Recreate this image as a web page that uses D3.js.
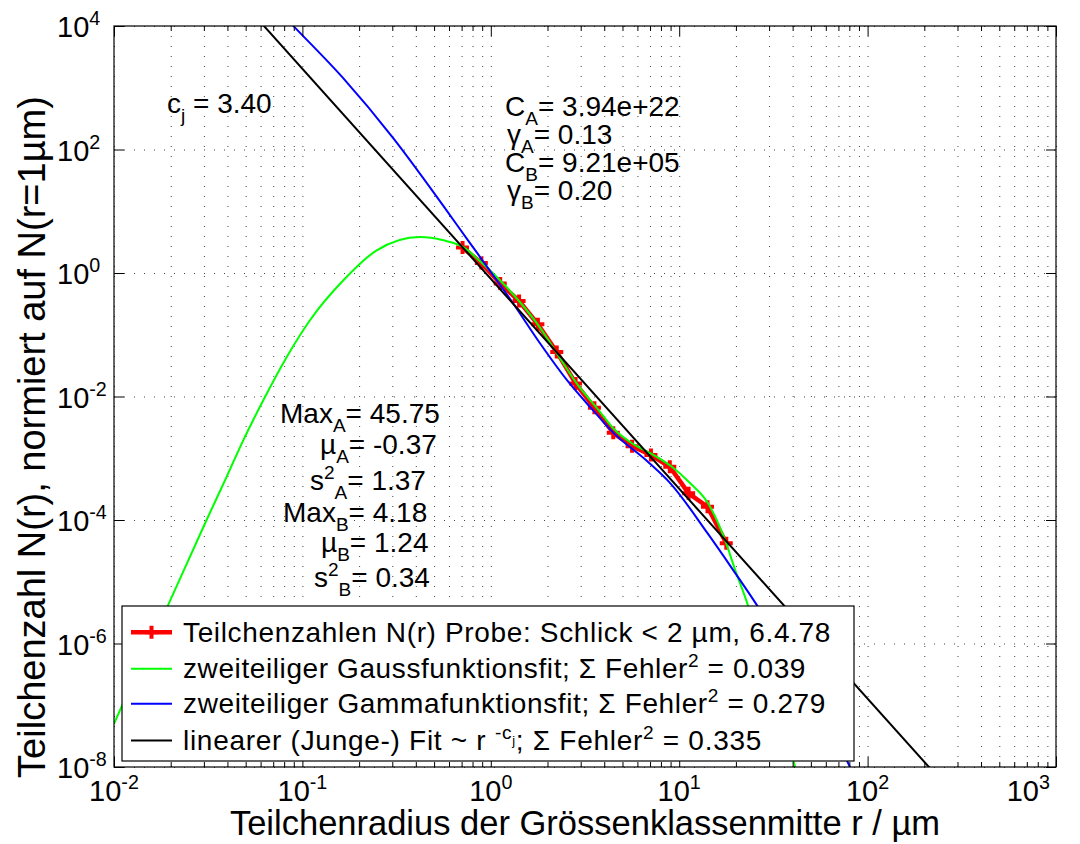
<!DOCTYPE html>
<html><head><meta charset="utf-8">
<script src="https://cdn.jsdelivr.net/npm/d3@7"></script>
<style>
body{margin:0;background:#fff;}
svg{display:block;}
text{font-family:"Liberation Sans",Arial,Helvetica,sans-serif;fill:#000;white-space:pre;}
</style>
</head><body>
<svg id="chart" width="1080" height="844"></svg>
<script>
// ---------------- data ----------------
const radiusUm = [0.708, 0.891, 1.122, 1.413, 1.778, 2.239, 2.818, 3.548, 4.467, 5.623, 7.079, 8.913, 11.22, 14.13, 17.78];
const countNorm = [2.58, 1.45, 0.674, 0.352, 0.148, 0.0527, 0.0163, 0.00656, 0.00258, 0.00157, 0.00113, 0.000728, 0.00027, 0.000164, 0.000042];

const gaussR = [0.01, 0.01102, 0.01905, 0.0310, 0.0396, 0.0486, 0.0620, 0.0826, 0.1097, 0.165, 0.248, 0.421, 0.560, 0.715, 0.877, 1.119, 1.43, 1.82, 2.33, 2.90, 3.66, 4.56, 5.69, 7.17, 9.04, 11.41, 14.2, 17.5, 19.8, 23.2, 30.3, 41.2, 43.8];
const gaussN = [5.0e-8, 9.8e-8, 3.73e-6, 1.0e-4, 5.0e-4, 1.97e-3, 8.7e-3, 0.0438, 0.172, 0.762, 2.33, 3.82, 3.38, 2.63, 1.55, 0.762, 0.336, 0.132, 0.0417, 0.0153, 0.00649, 0.00286, 0.0017, 0.00117, 0.000748, 0.000397, 0.000188, 4.75e-5, 1.56e-5, 4.07e-6, 1.78e-7, 1.01e-8, 5.1e-9];

const gammaR = [0.07604, 0.09135, 0.1642, 0.3027, 0.5575, 0.7568, 0.9605, 1.312, 1.824, 2.538, 3.484, 4.45, 6.748, 9.05, 14.1, 19.3, 26.2, 45.5, 78.7, 82.6];
const gammaN = [16900, 9415, 1441, 154.3, 12.44, 3.38, 1.236, 0.324, 0.0729, 0.0184, 0.0060, 0.00262, 0.0009, 0.000382, 6.17e-5, 1.56e-5, 3.92e-6, 2.31e-7, 1.17e-8, 8.4e-9];

const jungeR = [0.05, 300];
const jungeN = [21400, 3.05e-9];

const xTickValues = [1e-2, 1e-1, 1e0, 1e1, 1e2, 1e3];
const xTickLabels = ["10^{-2}", "10^{-1}", "10^{0}", "10^{1}", "10^{2}", "10^{3}"];
const yTickValues = [1e-8, 1e-6, 1e-4, 1e-2, 1e0, 1e2, 1e4];
const yTickLabels = ["10^{-8}", "10^{-6}", "10^{-4}", "10^{-2}", "10^{0}", "10^{2}", "10^{4}"];

const seriesNames = [
  "Teilchenzahlen N(r) Probe: Schlick < 2 µm, 6.4.78",
  "zweiteiliger Gaussfunktionsfit; Σ Fehler^{2} = 0.039",
  "zweiteiliger Gammafunktionsfit; Σ Fehler^{2} = 0.279",
  "linearer (Junge-) Fit ~ r ^{-c_{j}}; Σ Fehler^{2} = 0.335"
];
const annotationTexts = [
  "c_{j} = 3.40",
  "C_{A}= 3.94e+22", "γ_{A}= 0.13", "C_{B}= 9.21e+05", "γ_{B}= 0.20",
  "Max_{A}= 45.75", "µ_{A}= -0.37", "s^{2}_{A}= 1.37",
  "Max_{B}= 4.18", "µ_{B}= 1.24", "s^{2}_{B}= 0.34"
];
const xAxisTitle = "Teilchenradius der Grössenklassenmitte r / µm";
const yAxisTitle = "Teilchenzahl N(r), normiert auf N(r=1µm)";

// ---------------- layout ----------------
const L = 114, R = 1056, T = 26, B = 767;
const annotationPos = [
  [167,112.7],
  [505,116],[507,144],[505,172],[507,200],
  [280,423],[320,454],[310,490],[283,522],[321,552],[314,587]
];
const legendBox = {x: 122, y: 606, w: 732, h: 155};
const legendRowBase = [641.7, 678.3, 713.3, 750];
const legendRowEnd = [831, 806, 826, 762];

const svg = d3.select("#chart");
const x = d3.scaleLog().domain([1e-2, 1e3]).range([L, R]);
const y = d3.scaleLog().domain([1e-8, 1e4]).range([B, T]);

// rich text with ^{} and _{}
function parseTex(s, shift, scale, out) {
  let i = 0, buf = "";
  const flush = () => { if (buf) { out.push({t: buf, shift, scale}); buf = ""; } };
  while (i < s.length) {
    const c = s[i];
    if (c === "^" || c === "_") {
      flush();
      let inner;
      if (s[i+1] === "{") {
        let depth = 1, j = i + 2;
        while (j < s.length && depth) { if (s[j] === "{") depth++; else if (s[j] === "}") depth--; j++; }
        inner = s.slice(i+2, j-1); i = j;
      } else { inner = s[i+1]; i += 2; }
      parseTex(inner, shift + (c === "^" ? -0.40 * scale : 0.32 * scale), scale * 0.68, out);
    } else { buf += c; i++; }
  }
  flush();
  return out;
}
function drawTex(g, str, px, py, size, anchor) {
  const t = g.append("text").attr("x", px).attr("y", py).attr("font-size", size)
    .attr("text-anchor", anchor || "start");
  let prev = 0;
  parseTex(str, 0, 1, []).forEach(seg => {
    t.append("tspan").attr("dy", ((seg.shift - prev) * size).toFixed(2))
      .attr("font-size", (seg.scale * size).toFixed(2)).text(seg.t);
    prev = seg.shift;
  });
  return t;
}

// clip
svg.append("defs").append("clipPath").attr("id", "plotclip")
  .append("rect").attr("x", L).attr("y", T).attr("width", R - L).attr("height", B - T);

// grid
const gridStyle = s => s.selectAll("line").attr("stroke", "#444").attr("stroke-width", 1)
  .attr("stroke-dasharray", "1,9");
const gx = svg.append("g").attr("transform", `translate(0,${B})`)
  .call(d3.axisBottom(x).tickValues(x.ticks()).tickSize(-(B - T)).tickFormat(""));
gx.select(".domain").remove(); gridStyle(gx);
const gy = svg.append("g").attr("transform", `translate(${L},0)`)
  .call(d3.axisLeft(y).tickValues(yTickValues).tickSize(-(R - L)).tickFormat(""));
gy.select(".domain").remove(); gridStyle(gy);

// series
const plot = svg.append("g").attr("clip-path", "url(#plotclip)");
const dataPts = radiusUm.map((r, i) => [r, countNorm[i]]);
const gaussPts = gaussR.map((r, i) => [r, gaussN[i]]);
const gammaPts = gammaR.map((r, i) => [r, gammaN[i]]);
const jungePts = jungeR.map((r, i) => [r, jungeN[i]]);
const smooth = d3.line().x(d => x(d[0])).y(d => y(d[1])).curve(d3.curveMonotoneX);
const straight = d3.line().x(d => x(d[0])).y(d => y(d[1]));
const crossPath = s => `M${-s},0H${s}M0,${-s}V${s}`;

plot.append("path").attr("d", straight(dataPts)).attr("fill", "none")
  .attr("stroke", "#ff0000").attr("stroke-width", 4.5).attr("stroke-linejoin", "round");
plot.selectAll(".mk").data(dataPts).enter().append("path")
  .attr("d", crossPath(6.5)).attr("transform", d => `translate(${x(d[0])},${y(d[1])})`)
  .attr("stroke", "#ff0000").attr("stroke-width", 4).attr("fill", "none");
plot.append("path").attr("d", smooth(gaussPts)).attr("fill", "none")
  .attr("stroke", "#00ff00").attr("stroke-width", 2);
plot.append("path").attr("d", smooth(gammaPts)).attr("fill", "none")
  .attr("stroke", "#0000ff").attr("stroke-width", 2);
plot.append("path").attr("d", straight(jungePts)).attr("fill", "none")
  .attr("stroke", "#000000").attr("stroke-width", 2);

// axes ticks (inside)
function tickAxis(axisFn, scale, vals, size, transform) {
  const g = svg.append("g").attr("transform", transform)
    .call(axisFn(scale).tickValues(vals).tickSize(size).tickSizeOuter(0).tickFormat(""));
  g.select(".domain").remove();
  g.selectAll("line").attr("stroke", "#000").attr("stroke-width", 1);
}
const xMinor = x.ticks().filter(v => !xTickValues.includes(v));
tickAxis(d3.axisBottom, x, xTickValues, -10, `translate(0,${B})`);
tickAxis(d3.axisBottom, x, xMinor, -5, `translate(0,${B})`);
tickAxis(d3.axisTop, x, xTickValues, -10, `translate(0,${T})`);
tickAxis(d3.axisTop, x, xMinor, -5, `translate(0,${T})`);
tickAxis(d3.axisLeft, y, yTickValues, -10, `translate(${L},0)`);
tickAxis(d3.axisRight, y, yTickValues, -10, `translate(${R},0)`);
svg.append("rect").attr("x", L).attr("y", T).attr("width", R - L).attr("height", B - T)
  .attr("fill", "none").attr("stroke", "#000").attr("stroke-width", 1.2);

// tick labels
const labels = svg.append("g");
xTickValues.forEach((v, i) => {
  const t = drawTex(labels, xTickLabels[i], x(v), 801, 29, "middle");
  const bb = t.node().getBBox();
  if (bb.x + bb.width > 1050) t.attr("transform", `translate(${1050 - bb.x - bb.width},0)`);
});
yTickValues.forEach((v, i) => drawTex(labels, yTickLabels[i], 57, y(v) + 11, 29, "start"));

// axis titles
svg.append("text").attr("x", (L + R) / 2).attr("y", 835).attr("text-anchor", "middle")
  .attr("font-size", 34.5).text(xAxisTitle);
svg.append("text").attr("transform", `translate(45,437) rotate(-90)`)
  .attr("text-anchor", "middle").attr("font-size", 38).text(yAxisTitle);

// annotations
const ann = svg.append("g");
annotationTexts.forEach((s, i) => drawTex(ann, s, annotationPos[i][0], annotationPos[i][1], 28, "start"));

// legend
const lg = svg.append("g");
lg.append("rect").attr("x", legendBox.x).attr("y", legendBox.y).attr("width", legendBox.w).attr("height", legendBox.h)
  .attr("fill", "#fff").attr("stroke", "#000").attr("stroke-width", 1.2);
const legendColors = ["#ff0000", "#00ff00", "#0000ff", "#000000"];
const legendWidths = [4.5, 2, 2, 2];
seriesNames.forEach((name, i) => {
  const cy = legendRowBase[i] - 9.5;
  lg.append("line").attr("x1", 131).attr("x2", 172).attr("y1", cy).attr("y2", cy)
    .attr("stroke", legendColors[i]).attr("stroke-width", legendWidths[i]);
  if (i === 0) lg.append("path").attr("d", crossPath(6.5)).attr("transform", `translate(151.5,${cy})`)
    .attr("stroke", "#ff0000").attr("stroke-width", 4);
  const t = drawTex(lg, name, 183, legendRowBase[i], 28, "start");
  const bb = t.node().getBBox();
  const nChars = t.text().length;
  const extra = (legendRowEnd[i] - (bb.x + bb.width)) / nChars;
  if (extra > 0) t.style("letter-spacing", extra.toFixed(3) + "px");
});
</script>
</body></html>
